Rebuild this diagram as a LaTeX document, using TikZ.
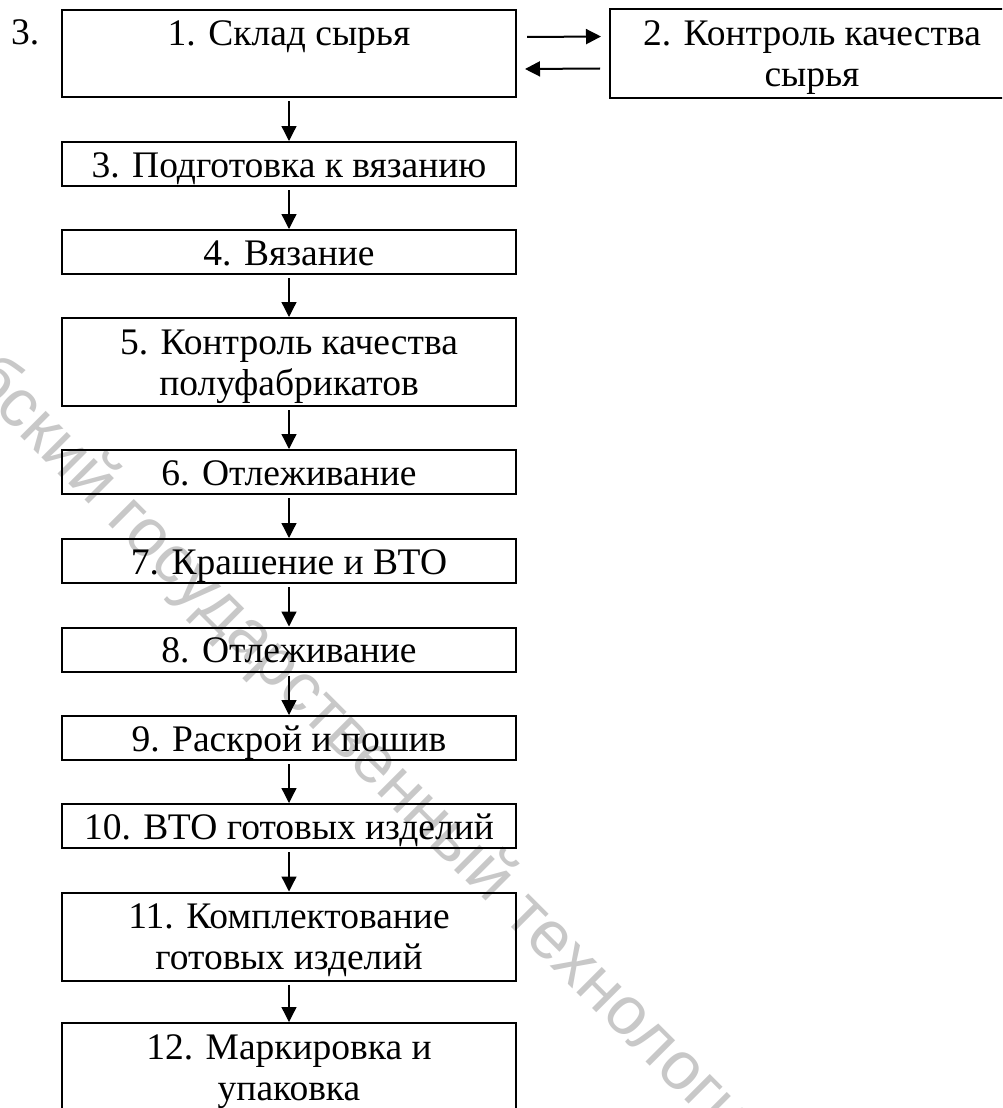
\documentclass[tikz,border=0pt]{standalone}
\usepackage{fontspec}
\setmainfont{Liberation Serif}
\newfontfamily\wmfont{Liberation Sans}
\usetikzlibrary{arrows.meta}
\definecolor{wmgray}{RGB}{200,200,200}
\begin{document}
\begin{tikzpicture}[x=1pt,y=-1pt,
  txt/.style={font=\fontsize{37.5}{41}\selectfont},
  box/.style={draw, line width=2pt, inner sep=0pt, align=center, txt, minimum width=454pt},
  one/.style={box, text height=35pt, text depth=9pt},
  tall/.style={box, text height=36pt, text depth=51pt},
  two/.style={box, text height=77pt, text depth=11pt},
  varr/.style={line width=1.3pt, shorten <=3pt, -{Triangle[length=15pt,width=15pt]}},
  harr/.style={line width=2pt, -{Triangle[length=15pt,width=15pt]}},
  wm/.style={text=wmgray, rotate=-45, font=\wmfont\fontsize{68}{68}\selectfont, inner sep=0pt}
]
\useasboundingbox (0,0) rectangle (1002,1108);
\clip (0,0) rectangle (1002,1108);
\node[wm] (wm) at (310,700) {\llap{Витебский }государственный\rlap{ технологический университет}};
\node[tall] (b1) at (289,53.5) {1. Склад сырья};
\node[two, minimum width=404pt] (b2) at (812,53.5) {2. Контроль качества\\сырья};
\node[txt, anchor=base west, inner sep=0pt] (num) at (11,45) {3.};
\node[one] (b3) at (289,164) {3. Подготовка к вязанию};
\node[one] (b4) at (289,252) {4. Вязание};
\node[two] (b5) at (289,362) {5. Контроль качества\\полуфабрикатов};
\node[one] (b6) at (289,472) {6. Отлеживание};
\node[one] (b7) at (289,561) {7. Крашение и ВТО};
\node[one] (b8) at (289,649.5) {8. Отлеживание};
\node[one] (b9) at (289,738) {9. Раскрой и пошив};
\node[one] (b10) at (289,826) {10. ВТО готовых изделий};
\node[two] (b11) at (289,936.5) {11. Комплектование\\готовых изделий};
\node[two] (b12) at (289,1067) {12. Маркировка и\\упаковка};
\draw[harr] ([xshift=10pt,yshift=-28pt]b1.north east) -- ([xshift=-8pt,yshift=-28pt]b2.north west);
\draw[harr] ([xshift=-9pt,yshift=-60pt]b2.north west) -- ([xshift=8pt,yshift=-60pt]b1.north east);
\draw[varr] (b1) -- (b3);
\draw[varr] (b3) -- (b4);
\draw[varr] (b4) -- (b5);
\draw[varr] (b5) -- (b6);
\draw[varr] (b6) -- (b7);
\draw[varr] (b7) -- (b8);
\draw[varr] (b8) -- (b9);
\draw[varr] (b9) -- (b10);
\draw[varr] (b10) -- (b11);
\draw[varr] (b11) -- (b12);
\end{tikzpicture}
\end{document}
